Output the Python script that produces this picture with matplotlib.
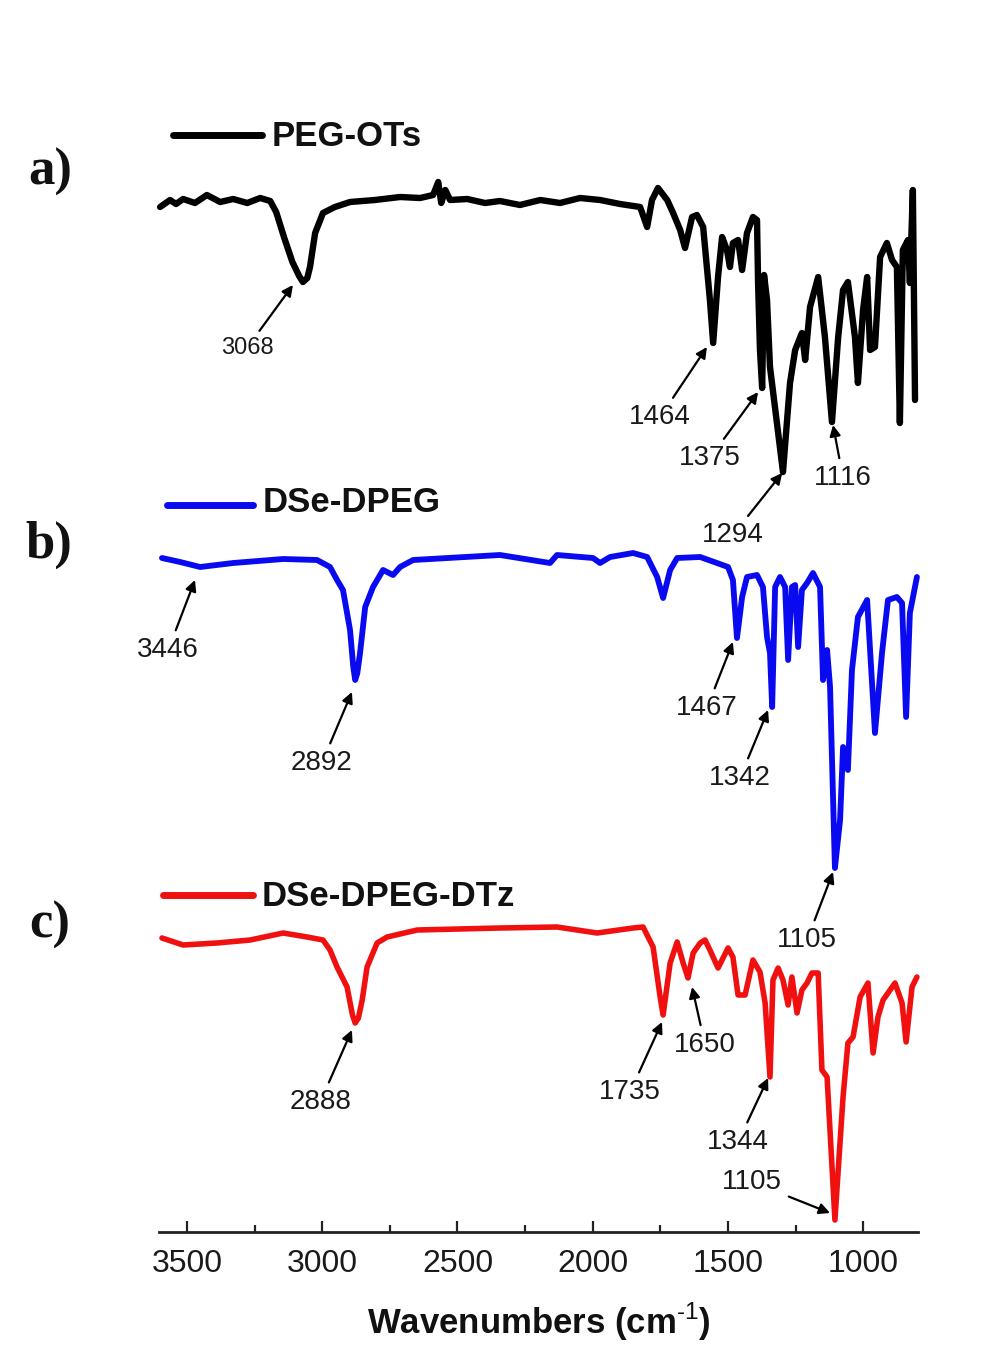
import matplotlib
matplotlib.use("Agg")
import matplotlib.pyplot as plt
from matplotlib.lines import Line2D
from matplotlib.ticker import MultipleLocator

plt.rcParams['font.family'] = ['Liberation Sans', 'DejaVu Sans']
plt.rcParams['mathtext.fontset'] = 'custom'
plt.rcParams['mathtext.rm'] = 'Liberation Sans'
plt.rcParams['mathtext.bf'] = 'Liberation Sans:bold'

# ---------------- data (wavenumber, relative transmittance a.u.) ----------------
peg_ots_wn = [3599, 3562, 3540, 3514, 3470, 3426, 3377, 3329, 3277, 3229, 3192, 3170, 3140, 3110,
              3085, 3071, 3055, 3045, 3026, 2997, 2953, 2897, 2805, 2712, 2638, 2590, 2571, 2560,
              2545, 2527, 2464, 2398, 2343, 2269, 2194, 2121, 2047, 1973, 1899, 1825, 1799, 1781,
              1759, 1725, 1703, 1677, 1659, 1633, 1615, 1592, 1567, 1555, 1537, 1522, 1504, 1493,
              1482, 1463, 1448, 1430, 1408, 1393, 1389, 1382, 1374, 1367, 1356, 1345, 1297, 1271,
              1252, 1227, 1215, 1197, 1167, 1142, 1116, 1093, 1075, 1057, 1031, 1020, 1001, 986,
              975, 957, 938, 913, 894, 876, 865, 854, 835, 828, 817, 809]
peg_ots_t = [-7, 0, -4, 1, -3, 5, -2, 1, -3, 2, -1, -12, -38, -62,
             -76, -82, -78, -67, -33, -13, -7, -2, 0, 3, 2, 5, 18, -3,
             10, 0, 1, -3, -1, -5, 0, -3, 2, 0, -4, -7, -27, 0,
             12, 0, -13, -30, -48, -17, -15, -27, -100, -143, -77, -37, -50, -67,
             -43, -40, -70, -33, -17, -20, -83, -150, -188, -75, -100, -167, -272, -183,
             -150, -133, -160, -107, -77, -137, -222, -137, -90, -82, -137, -183, -110, -77,
             -150, -147, -57, -43, -60, -67, -223, -50, -40, -83, 10, -200]

dse_dpeg_wn = [3592, 3525, 3451, 3329, 3144, 3019, 2971, 2945, 2923, 2897, 2885, 2878, 2870, 2860,
               2841, 2812, 2775, 2738, 2712, 2664, 2343, 2158, 2132, 1999, 1973, 1936, 1851, 1799,
               1762, 1740, 1714, 1688, 1603, 1541, 1500, 1482, 1467, 1448, 1430, 1393, 1371, 1356,
               1345, 1337, 1326, 1308, 1289, 1278, 1264, 1252, 1241, 1227, 1208, 1186, 1160, 1149,
               1134, 1123, 1105, 1086, 1075, 1057, 1042, 1020, 986, 957, 931, 909, 876, 857, 842,
               828, 802]
dse_dpeg_t = [-3, -7, -12, -8, -4, -5, -12, -25, -35, -75, -112, -125, -118, -98,
              -52, -32, -15, -20, -12, -5, 0, -8, 0, -3, -8, -2, 2, -2,
              -22, -43, -15, -3, -2, -8, -12, -25, -83, -42, -22, -20, -32, -82,
              -98, -152, -32, -22, -32, -105, -32, -30, -92, -35, -28, -18, -32, -125,
              -95, -132, -313, -265, -192, -215, -115, -62, -45, -178, -98, -45, -42, -48, -162,
              -58, -22]

dse_dtz_wn = [3592, 3514, 3389, 3266, 3144, 3056, 2997, 2971, 2945, 2908, 2888, 2878, 2866, 2852,
              2834, 2797, 2760, 2649, 2343, 2132, 1984, 1851, 1814, 1777, 1751, 1740, 1714, 1688,
              1666, 1648, 1629, 1603, 1585, 1567, 1537, 1500, 1482, 1463, 1437, 1408, 1382, 1363,
              1345, 1334, 1315, 1297, 1278, 1264, 1245, 1227, 1208, 1190, 1167, 1153, 1134, 1105,
              1075, 1057, 1038, 1012, 983, 964, 946, 927, 883, 857, 842, 820, 802]
dse_dtz_t = [-8, -15, -13, -10, -3, -7, -10, -20, -37, -57, -85, -93, -88, -70,
             -37, -13, -7, 0, 2, 3, -3, 2, 3, -17, -67, -85, -33, -12,
             -33, -48, -23, -13, -10, -20, -38, -18, -27, -65, -65, -30, -42, -73,
             -147, -50, -38, -50, -75, -47, -83, -60, -53, -43, -43, -140, -147, -290,
             -167, -113, -107, -67, -53, -123, -87, -70, -53, -73, -112, -57, -47]

series_names = ["PEG-OTs", "DSe-DPEG", "DSe-DPEG-DTz"]
series_colors = ["black", "#0a0af0", "#f01010"]
panel_labels = ["a)", "b)", "c)"]
tick_values = [3500, 3000, 2500, 2000, 1500, 1000]

# peak annotations: (label, arrow head (wn, y), text (wn, y), fontsize)
annotations = [
    ("3068", (3108, 947), (3278, 884), 17),
    ("1464", (1578, 885), (1751, 815), 20),
    ("1375", (1389, 840), (1567, 774), 20),
    ("1294", (1300, 759), (1482, 697), 20),
    ("1116", (1112, 807), (1075, 754), 20),
    ("3446", (3470, 652), (3569, 582), 20),
    ("2892", (2890, 540), (3001, 469), 20),
    ("1467", (1482, 590), (1578, 524), 20),
    ("1342", (1352, 522), (1456, 454), 20),
    ("1105", (1112, 360), (1208, 292), 20),
    ("2888", (2890, 202), (3007, 130), 20),
    ("1735", (1744, 210), (1862, 140), 20),
    ("1650", (1633, 245), (1585, 187), 20),
    ("1344", (1352, 154), (1463, 90), 20),
    ("1105", (1123, 19), (1411, 50), 20),
]

# ---------------- figure ----------------
W, H = 1003, 1358
fig = plt.figure(figsize=(W / 100, H / 100), dpi=100)
fig.patch.set_facecolor('white')
ax = fig.add_axes([159 / W, 1 - 1232 / H, (918 - 159) / W, 1232 / H])
ax.set_xlim(3603, 798)
ax.set_ylim(0, 1232)

offsets = [1032, 677, 302]
traces = [(peg_ots_wn, peg_ots_t), (dse_dpeg_wn, dse_dpeg_t), (dse_dtz_wn, dse_dtz_t)]
lws = [4.6, 4.2, 4.0]
for (wn, t), off, c, lw in zip(traces, offsets, series_colors, lws):
    ax.plot(wn, [v + off for v in t], color=c, lw=lw, solid_joinstyle='round',
            solid_capstyle='round', clip_on=False)

for lab, head, txt, fs in annotations:
    ax.annotate(lab, xy=head, xytext=txt, ha='center', va='center', fontsize=fs,
                color='#1a1a1a',
                arrowprops=dict(arrowstyle='-|>', color='black', lw=1.6,
                                mutation_scale=16, shrinkA=3, shrinkB=0))

for s in ['left', 'right', 'top']:
    ax.spines[s].set_visible(False)
ax.spines['bottom'].set_linewidth(2.0)
ax.spines['bottom'].set_color('#222222')
ax.set_yticks([])
ax.set_xticks(tick_values)
ax.set_xticklabels([str(v) for v in tick_values])
ax.xaxis.set_minor_locator(MultipleLocator(250))
ax.tick_params(axis='x', which='major', direction='in', length=8, width=1.6,
               labelsize=23, pad=12, colors='#222222', labelcolor='#1a1a1a')
ax.tick_params(axis='x', which='minor', direction='in', length=5, width=1.6, colors='#222222')
ax.set_facecolor('none')

fig.text(539 / W, 1 - 1322 / H, r'Wavenumbers (cm$^{\text{-1}}$)', ha='center', va='center',
         fontsize=25, fontweight='bold', color='#111111')


def fp(x, y):
    return (x / W, 1 - y / H)


legend_pos = [((173, 262, 135), (272, 137)),
              ((167, 253, 505), (263, 503)),
              ((163, 253, 895), (262, 897))]
for ((x0, x1, yl), (tx, ty)), name, c in zip(legend_pos, series_names, series_colors):
    fig.add_artist(Line2D([x0 / W, x1 / W], [1 - yl / H, 1 - yl / H], color=c, lw=5,
                          solid_capstyle='round', transform=fig.transFigure))
    fig.text(*fp(tx, ty), name, ha='left', va='center', fontsize=25, fontweight='bold',
             color='#111111')

panel_pos = [(28, 185), (25, 558), (29, 938)]
for (px_, py_), lab in zip(panel_pos, panel_labels):
    fig.text(*fp(px_, py_), lab, ha='left', va='baseline', fontsize=38, fontweight='bold',
             family='Liberation Serif', color='#111111')

fig.savefig('out.png', dpi=100, facecolor='white')
